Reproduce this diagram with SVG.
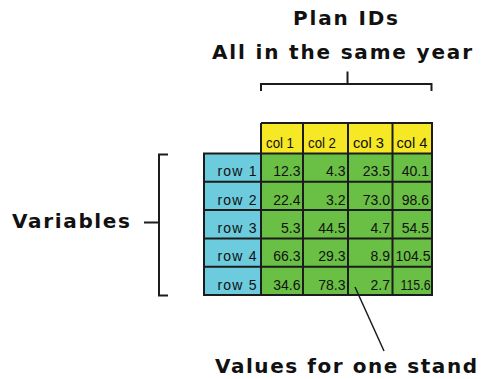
<svg xmlns="http://www.w3.org/2000/svg" width="481" height="379" viewBox="0 0 481 379">
<style>
  .big { font-family: "DejaVu Sans", "Liberation Sans", sans-serif; font-weight: bold; font-size: 20px; fill: #111; }
  .cell { font-family: "Liberation Sans", Arial, sans-serif; font-size: 14px; fill: #111; }
  .num { text-anchor: end; }
  .lab { text-anchor: end; }
  .hdr { fill: #f6e824; }
  .val { fill: #6abf45; }
  .var { fill: #6ccbdc; }
  .grid { stroke: #1c1c1c; stroke-width: 2; fill: none; }
  .br { stroke: #1c1c1c; stroke-width: 2; fill: none; }
</style>
<rect width="481" height="379" fill="#ffffff"/>

<g id="title">
  <text class="big" x="293" y="25" textLength="105" lengthAdjust="spacing">Plan IDs</text>
  <text class="big" x="212" y="59" textLength="260" lengthAdjust="spacing">All in the same year</text>
</g>

<g id="variables-label">
  <text class="big" x="12" y="227.5" textLength="118" lengthAdjust="spacing">Variables</text>
</g>

<g id="values-label">
  <text class="big" x="215" y="373" textLength="262" lengthAdjust="spacing">Values for one stand</text>
</g>

<g id="table">
  <rect class="hdr" x="261" y="123" width="171" height="30.5"/>
  <rect class="var" x="204" y="153.5" width="57" height="141.5"/>
  <rect class="val" x="261" y="153.5" width="171" height="141.5"/>
  <g class="grid">
    <path d="M261,123 H432 V295 H204 V153.5 H432"/>
    <path d="M261,123 V295 M303,123 V295 M348,123 V295 M392.5,123 V295"/>
    <path d="M204,181.8 H432 M204,210.1 H432 M204,238.4 H432 M204,266.7 H432"/>
  </g>
  <g class="cell">
    <text x="266" y="148" textLength="28" lengthAdjust="spacingAndGlyphs">col 1</text>
    <text x="308" y="148" textLength="28" lengthAdjust="spacingAndGlyphs">col 2</text>
    <text x="353" y="148" textLength="31" lengthAdjust="spacingAndGlyphs">col 3</text>
    <text x="396.5" y="148" textLength="31" lengthAdjust="spacingAndGlyphs">col 4</text>
  </g>
  <g class="cell lab">
    <text x="256.5" y="176.3" textLength="39" lengthAdjust="spacing">row 1</text>
    <text x="256.5" y="204.6" textLength="39" lengthAdjust="spacing">row 2</text>
    <text x="256.5" y="232.9" textLength="39" lengthAdjust="spacing">row 3</text>
    <text x="256.5" y="261.2" textLength="39" lengthAdjust="spacing">row 4</text>
    <text x="256.5" y="289.5" textLength="39" lengthAdjust="spacing">row 5</text>
  </g>
  <g class="cell num">
    <text x="300.5" y="176.3">12.3</text>
    <text x="345.5" y="176.3">4.3</text>
    <text x="390" y="176.3">23.5</text>
    <text x="429" y="176.3">40.1</text>

    <text x="300.5" y="204.6">22.4</text>
    <text x="345.5" y="204.6">3.2</text>
    <text x="390" y="204.6">73.0</text>
    <text x="429" y="204.6">98.6</text>

    <text x="300.5" y="232.9">5.3</text>
    <text x="345.5" y="232.9">44.5</text>
    <text x="390" y="232.9">4.7</text>
    <text x="429" y="232.9">54.5</text>

    <text x="300.5" y="261.2">66.3</text>
    <text x="345.5" y="261.2">29.3</text>
    <text x="390" y="261.2">8.9</text>
    <text x="430.5" y="261.2" textLength="35" lengthAdjust="spacingAndGlyphs">104.5</text>

    <text x="300.5" y="289.5">34.6</text>
    <text x="345.5" y="289.5">78.3</text>
    <text x="390" y="289.5">2.7</text>
    <text x="430.5" y="289.5" textLength="30" lengthAdjust="spacingAndGlyphs">115.6</text>
  </g>
</g>

<g id="connectors">
  <path class="br" d="M261,91 V84 H431.5 V91 M347.5,84 V71.5"/>
  <path class="br" d="M168,154.5 H159 V295.5 H168 M144,222.5 H159"/>
  <path d="M355,287 L384,351" stroke="#1c1c1c" stroke-width="1.5" fill="none"/>
</g>
</svg>
